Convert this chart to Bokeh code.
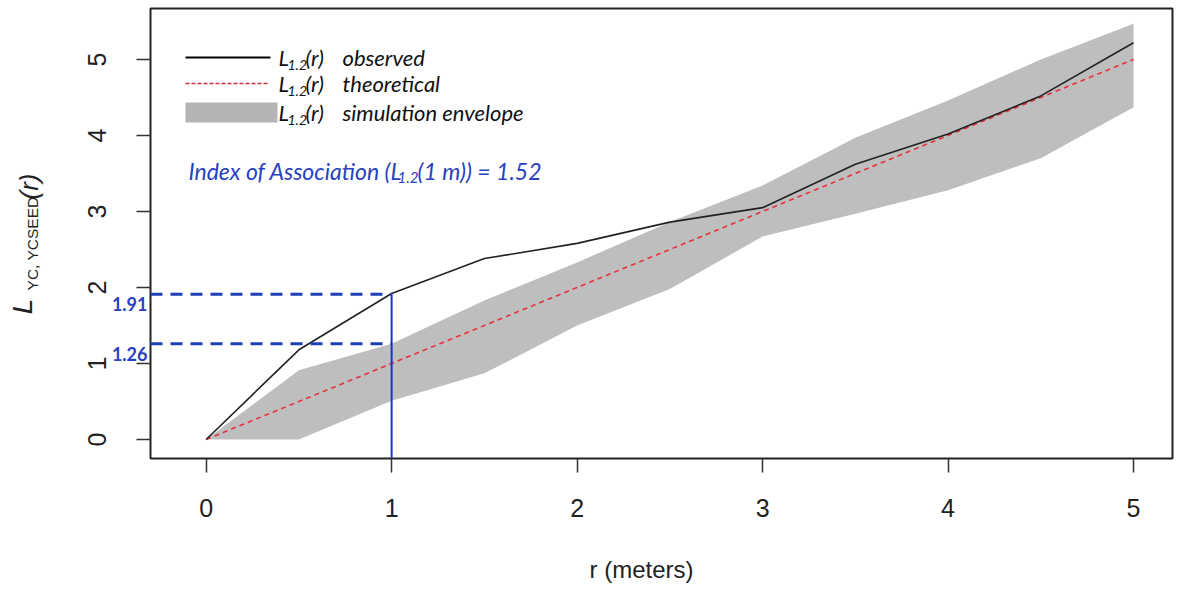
import math
from bokeh.plotting import figure
from bokeh.models import Range1d, Label, FixedTicker, LinearAxis
from bokeh.embed import file_html
from bokeh.resources import INLINE

# ---------------- data ----------------
r = [0, 0.5, 1, 1.5, 2, 2.5, 3, 3.5, 4, 4.5, 5]
observed = [0, 1.18, 1.92, 2.38, 2.58, 2.86, 3.05, 3.62, 4.02, 4.52, 5.22]
theoretical = [0, 0.5, 1, 1.5, 2, 2.5, 3, 3.5, 4, 4.5, 5]
env_lower = [0, 0, 0.51, 0.87, 1.50, 1.98, 2.67, 2.97, 3.28, 3.70, 4.37]
env_upper = [0, 0.91, 1.26, 1.83, 2.33, 2.86, 3.34, 3.97, 4.46, 5.00, 5.47]
x_ticks = [0, 1, 2, 3, 4, 5]
y_ticks = [0, 1, 2, 3, 4, 5]
index_r = 1
ref_levels = [1.91, 1.26]
ref_labels = ["1.91", "1.26"]
legend_names = ["observed", "theoretical", "simulation envelope"]
index_text = ["Index of Association (L", "1.2", "(1 m)) = 1.52"]
x_title = "r (meters)"

# ---------------- layout ----------------
W, H = 1175, 585
X0, X1 = -0.3, 5.21          # plot box (R style) in data units
Y0, Y1 = -0.25, 5.67
FL, FR, FT, FB = 150, 1172, 8, 458   # plot box edges in canvas pixels

def dx(px):
    return X0 + (px - FL) / (FR - FL) * (X1 - X0)

def dy(py):
    return Y0 + (FB - py) / (FB - FT) * (Y1 - Y0)

# the frame covers the whole canvas so that texts in the margins are not clipped
p = figure(width=W, height=H, output_backend="svg", toolbar_location=None,
           x_range=Range1d(dx(0), dx(W)), y_range=Range1d(dy(H), dy(0)),
           x_axis_location=None, y_axis_location=None,
           min_border=0)
p.grid.visible = False
p.background_fill_color = "white"
p.border_fill_color = "white"
p.outline_line_color = None

TICK_FONT = "Liberation Sans"
xaxis = LinearAxis(fixed_location=Y0, ticker=FixedTicker(ticks=x_ticks))
yaxis = LinearAxis(fixed_location=X0, ticker=FixedTicker(ticks=y_ticks))
for ax in (xaxis, yaxis):
    ax.axis_line_color = None
    ax.major_tick_line_color = "#333333"
    ax.major_tick_line_width = 1.5
    ax.major_tick_out = 14
    ax.major_tick_in = 0
    ax.minor_tick_line_color = None
    ax.major_label_text_font = TICK_FONT
    ax.major_label_text_font_size = "25px"
    ax.major_label_text_color = "#222222"
xaxis.major_label_standoff = 26
yaxis.major_label_standoff = 30
yaxis.major_label_orientation = "vertical"
p.add_layout(xaxis, "below")
p.add_layout(yaxis, "left")

# x axis title
p.add_layout(Label(x=dx(641), y=dy(569), text=x_title, text_align="center",
                   text_baseline="middle", text_font=TICK_FONT, text_font_size="24px",
                   text_color="#222222"))

# envelope, theoretical, observed
p.varea(x=r, y1=env_lower, y2=env_upper, fill_color="#bebebe")
p.line(x=r, y=theoretical, line_color="#e8303a", line_width=1.6, line_dash="5 4")
p.line(x=r, y=observed, line_color="#222222", line_width=1.6)

# plot box
p.quad(left=[X0], right=[X1], bottom=[Y0], top=[Y1], fill_color=None,
       line_color="#222222", line_width=2)

# blue reference lines
obs_at_index = ref_levels[0]
p.segment(x0=[X0] * len(ref_levels), y0=ref_levels, x1=[index_r] * len(ref_levels),
          y1=ref_levels, line_color="#1f3fb4", line_width=3, line_dash="12 8")
p.segment(x0=[index_r], y0=[Y0], x1=[index_r], y1=[obs_at_index],
          line_color="#1234dc", line_width=2)

BLUE = "#2a40c0"
for lev, lab in zip(ref_levels, ref_labels):
    p.add_layout(Label(x=dx(147), y=lev, text=lab, text_align="right", text_baseline="top",
                       y_offset=-3, text_font="Lato", text_font_style="bold",
                       text_font_size="18px", text_color=BLUE))

# y axis label composed from pieces (rotated)
ylab = [("L", 22, 306, "28px", "italic"), ("YC, YCSEED", 32, 243, "15.5px", "normal"),
        ("(r)", 28, 186, "26px", "italic")]
for s, px, py, fs, st in ylab:
    p.add_layout(Label(x=dx(px), y=dy(py), text=s, angle=math.pi / 2,
                       text_align="center", text_baseline="middle",
                       text_font="Liberation Sans", text_font_style=st,
                       text_font_size=fs, text_color="#222222"))

# legend
rows_y = [57, 83, 112]
p.segment(x0=[dx(185)], y0=[dy(rows_y[0])], x1=[dx(270)], y1=[dy(rows_y[0])],
          line_color="black", line_width=2)
p.segment(x0=[dx(185)], y0=[dy(rows_y[1])], x1=[dx(268)], y1=[dy(rows_y[1])],
          line_color="#c83040", line_width=1.5, line_dash="4 2")
p.quad(left=[dx(185)], right=[dx(277)], top=[dy(102)], bottom=[dy(122)],
       fill_color="#b4b4b4", line_color=None)

def put(s, px, py, fs, color="#111111"):
    p.add_layout(Label(x=dx(px), y=dy(py), text=s, text_align="left", text_baseline="middle",
                       text_font="Lato", text_font_style="italic", text_font_size=fs,
                       text_color=color))

for ry, name in zip(rows_y, legend_names):
    put("L", 278, ry, "22px")
    put("1.2", 287, ry + 7, "14px")
    put("(r)", 305, ry, "22px")
    put(name, 342, ry, "22px")

put(index_text[0], 188, 170, "23px", BLUE)
put(index_text[1], 397, 177, "15px", BLUE)
put(index_text[2], 417, 170, "23px", BLUE)

open("out.html", "w").write(file_html(p, INLINE))
